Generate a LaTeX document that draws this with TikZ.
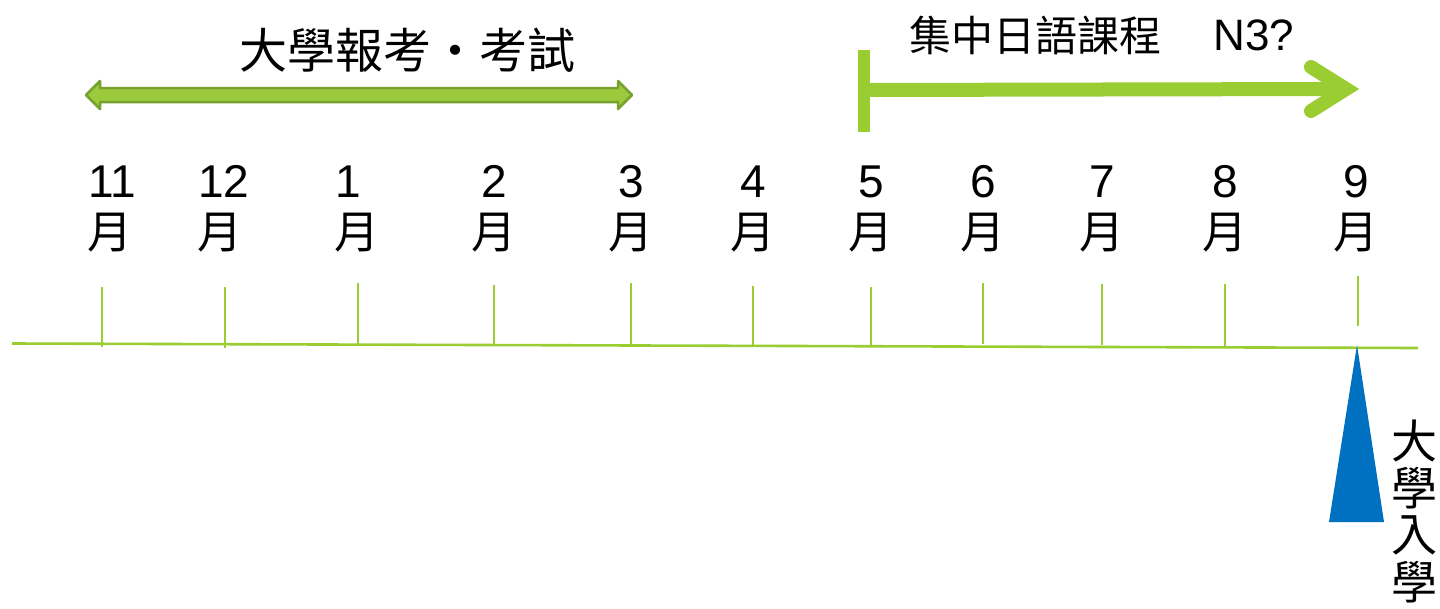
\documentclass[tikz,border=0pt]{standalone}
\usepackage{fontspec}
\setmainfont{Liberation Sans}
\newfontfamily\cjk{Noto Sans CJK TC}
\definecolor{lgreen}{HTML}{9ACD32}
\definecolor{dgreen}{HTML}{77A22F}
\definecolor{mgreen}{HTML}{9BCB3C}
\definecolor{tblue}{HTML}{0070C0}
\begin{document}
\begin{tikzpicture}[x=1pt,y=-1pt,
  tick/.style={draw=lgreen,line width=2.6pt},
  numlab/.style={font=\fontsize{46}{46}\selectfont,inner sep=0pt,anchor=base},
  yuelab/.style={font=\cjk\fontsize{45}{45}\selectfont,inner sep=0pt},
  title/.style={font=\cjk\fontsize{44}{44}\selectfont,inner sep=0pt}]
\useasboundingbox (0,0) rectangle (1440,608);
% baseline
\coordinate (bl) at (12,343.5);
\coordinate (br) at (1418,348);
\draw[tick] (bl) -- (br);
% ticks
\foreach \n/\x/\t/\b in {a/102/287/347,b/225/287/348,c/358/283/344,d/494/285/346,e/631/283/346,f/753/286/346,g/871/287/347,h/983/283/344,i/1102/284/345,j/1225/284/346,k/1358/276/326}{
  \coordinate (t\n) at (\x,\t);
  \coordinate (u\n) at (\x,\b);
  \draw[tick] (t\n) -- (u\n);
}
% month labels
\foreach \n/\xn/\xy/\num in {a/112/110/11,b/224/220/12,c/348/357/1,d/494/494/2,e/631/631/3,f/753/753/4,g/871/871/5,h/983/983/6,i/1102/1102/7,j/1225/1225/8,k/1356/1356/9}{
  \node[numlab] (n\n) at (\xn,197) {\num};
  \node[yuelab] (y\n) at (\xy,233) {月};
}
% titles
\node[title,font=\cjk\fontsize{48}{48}\selectfont] (t1) at (407,50) {大學報考・考試};
\node[title,font=\cjk\fontsize{42}{42}\selectfont] (t2) at (1035,35) {集中日語課程};
\node[inner sep=0pt,font=\fontsize{44}{44}\selectfont,anchor=base] (t3) at (1254,50) {N3?};
% double arrow
\filldraw[fill=mgreen,draw=dgreen,line width=2.5pt,line join=round]
  (86,95) -- (100,81) -- (100,88) -- (618,88) -- (618,81) -- (632,95)
  -- (618,109) -- (618,102) -- (100,102) -- (100,109) -- cycle;
% right arrow
\coordinate (s0) at (864,50);
\coordinate (s1) at (864,132);
\draw[lgreen,line width=12pt] (s0) -- (s1);
\coordinate (a0) at (864,90);
\coordinate (a1) at (1340,89);
\draw[lgreen,line width=14pt] (a0) -- (a1);
\draw[lgreen,line width=14pt,line cap=round,line join=miter] (1311,67) -- (1346,89) -- (1311,111);
% triangle
\fill[tblue] (1357,345) -- (1384,522) -- (1329,522) -- cycle;
% vertical text
\foreach \c/\yy/\n in {大/441/v1,學/488/v2,入/535/v3,學/582/v4}{
  \node[title,font=\cjk\fontsize{46}{46}\selectfont] (\n) at (1414,\yy) {\c};
}
\end{tikzpicture}
\end{document}
